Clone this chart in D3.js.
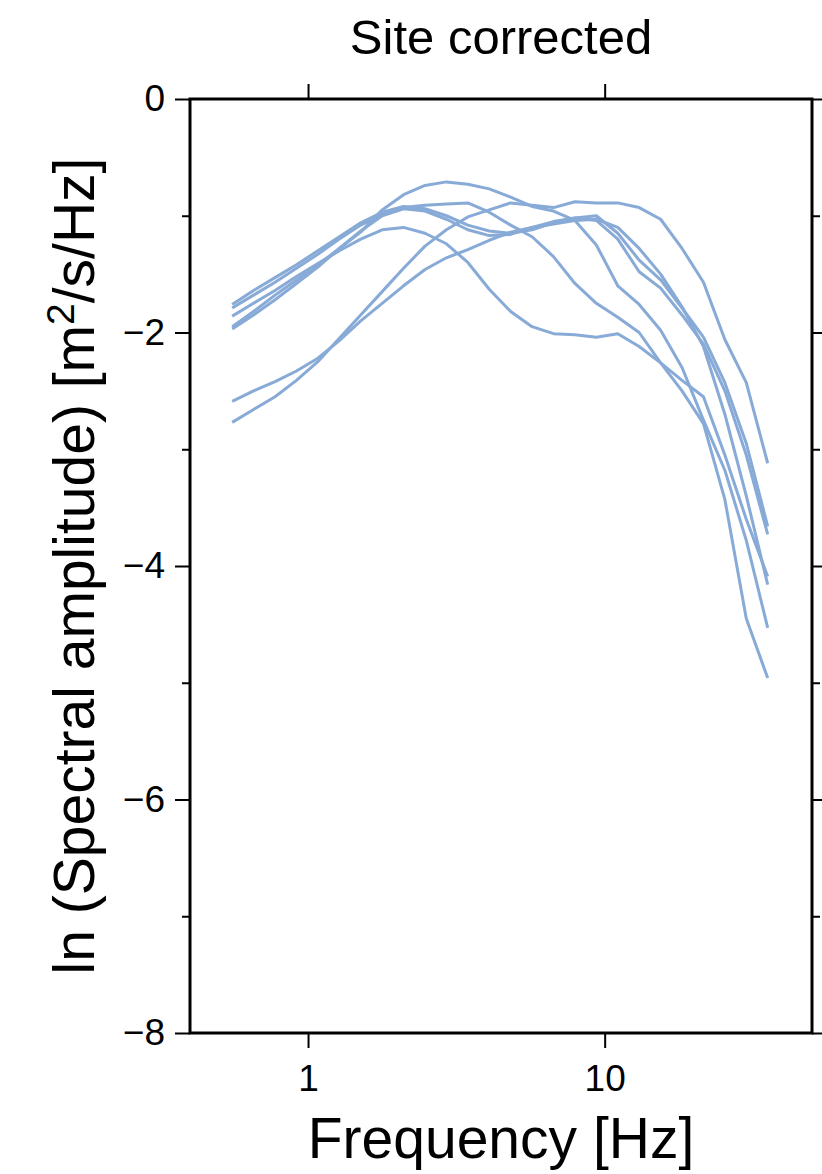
<!DOCTYPE html>
<html>
<head>
<meta charset="utf-8">
<script src="https://cdn.jsdelivr.net/npm/d3@7"></script>
<style>
  body { margin: 0; background: #fff; }
  text { font-family: "Liberation Sans", Arial, sans-serif; fill: #000; }
</style>
</head>
<body>
<script>
// chart size
const width = 822;
const height = 1174;
const margin = {top: 99, right: 10, bottom: 141, left: 190};

// frequencies (Hz) of the spectral samples
const freqs = [0.555, 0.655, 0.774, 0.914, 1.079, 1.275, 1.505, 1.778, 2.099, 2.479,
               2.927, 3.457, 4.082, 4.820, 5.692, 6.722, 7.938, 9.374, 11.07, 13.07,
               15.44, 18.23, 21.53, 25.42, 30.02, 35.45];

// ln spectral amplitude per station
const stationA = [-1.76,-1.64,-1.53,-1.42,-1.30,-1.18,-1.06,-0.97,-0.92,-0.94,-1.00,-1.08,-1.13,-1.15,-1.12,-1.06,-1.02,-1.00,-1.15,-1.38,-1.55,-1.79,-2.04,-2.43,-2.95,-3.66];
const stationB = [-1.97,-1.85,-1.72,-1.58,-1.44,-1.28,-1.13,-1.00,-0.94,-0.96,-1.03,-1.12,-1.17,-1.16,-1.10,-1.05,-1.02,-1.04,-1.20,-1.48,-1.62,-1.85,-2.10,-2.50,-3.05,-3.73];
const stationC = [-1.79,-1.68,-1.57,-1.45,-1.33,-1.20,-1.08,-0.99,-0.93,-0.91,-0.90,-0.89,-0.97,-1.08,-1.18,-1.35,-1.58,-1.75,-1.87,-2.00,-2.26,-2.41,-2.55,-3.05,-3.60,-4.09];
const stationD = [-1.86,-1.75,-1.64,-1.52,-1.41,-1.30,-1.20,-1.12,-1.10,-1.15,-1.24,-1.40,-1.63,-1.82,-1.95,-2.01,-2.02,-2.04,-2.01,-2.12,-2.26,-2.50,-2.78,-3.43,-4.45,-4.96];
const stationE = [-1.95,-1.82,-1.68,-1.55,-1.42,-1.28,-1.14,-0.95,-0.82,-0.74,-0.71,-0.73,-0.77,-0.84,-0.92,-0.96,-1.04,-1.25,-1.60,-1.76,-1.98,-2.30,-2.75,-3.18,-3.78,-4.53];
const stationF = [-2.77,-2.66,-2.55,-2.41,-2.25,-2.05,-1.85,-1.65,-1.45,-1.26,-1.12,-1.01,-0.95,-0.89,-0.91,-0.93,-0.88,-0.89,-0.89,-0.93,-1.03,-1.28,-1.57,-2.06,-2.43,-3.12];
const stationG = [-2.59,-2.50,-2.42,-2.33,-2.22,-2.07,-1.90,-1.75,-1.60,-1.46,-1.36,-1.29,-1.21,-1.14,-1.10,-1.07,-1.04,-1.03,-1.10,-1.28,-1.50,-1.78,-2.12,-2.70,-3.40,-4.16];
const stations = [stationA, stationB, stationC, stationD, stationE, stationF, stationG];

// axis ticks
const xTicks = [1, 10];
const yTicks = [0, -1, -2, -3, -4, -5, -6, -7, -8];

const x = d3.scaleLog()
    .domain([0.4, 50])
    .range([margin.left, width - margin.right]);

const y = d3.scaleLinear()
    .domain([-8, 0])
    .range([height - margin.bottom, margin.top]);

const svg = d3.select('body').append('svg')
    .attr('width', width)
    .attr('height', height);

// curves
const line = d3.line()
    .x((d, i) => x(freqs[i]))
    .y(d => y(d));

svg.append('g')
    .selectAll('path')
    .data(stations)
    .join('path')
    .attr('fill', 'none')
    .attr('stroke', '#88aad7')
    .attr('stroke-width', 3)
    .attr('stroke-linejoin', 'round')
    .attr('d', line);

// axes
const fmtY = d => d % 2 === 0 ? d3.format('d')(d) : '';

const styleAxis = g => {
    g.select('.domain').remove();
    g.selectAll('.tick line').attr('stroke', '#000').attr('stroke-width', 2);
    g.selectAll('.tick text').attr('font-size', 37);
};

svg.append('g')
    .attr('transform', `translate(${margin.left},0)`)
    .call(d3.axisLeft(y).tickValues(yTicks).tickSize(15).tickPadding(10).tickFormat(fmtY))
    .call(styleAxis)
    .call(g => g.selectAll('.tick line').filter(d => d % 2 !== 0).attr('x2', -8));

svg.append('g')
    .attr('transform', `translate(${width - margin.right},0)`)
    .call(d3.axisRight(y).tickValues(yTicks).tickSize(15).tickFormat(''))
    .call(styleAxis)
    .call(g => g.selectAll('.tick line').filter(d => d % 2 !== 0).attr('x2', 8));

svg.append('g')
    .attr('transform', `translate(0,${height - margin.bottom})`)
    .call(d3.axisBottom(x).tickValues(xTicks).tickSize(15).tickPadding(17).tickFormat(d3.format('d')))
    .call(styleAxis);

svg.append('g')
    .attr('transform', `translate(0,${margin.top})`)
    .call(d3.axisTop(x).tickValues(xTicks).tickSize(15).tickFormat(''))
    .call(styleAxis);

// frame
svg.append('rect')
    .attr('x', margin.left)
    .attr('y', margin.top)
    .attr('width', width - margin.right - margin.left)
    .attr('height', height - margin.bottom - margin.top)
    .attr('fill', 'none')
    .attr('stroke', '#000')
    .attr('stroke-width', 3);

// titles
const midX = (margin.left + width - margin.right) / 2;

svg.append('text')
    .attr('x', midX)
    .attr('y', 54)
    .attr('text-anchor', 'middle')
    .attr('font-size', 49)
    .text('Site corrected');

svg.append('text')
    .attr('x', midX)
    .attr('y', 1158)
    .attr('text-anchor', 'middle')
    .attr('font-size', 57)
    .text('Frequency [Hz]');

const yLabel = svg.append('text')
    .attr('transform', `translate(94,${(margin.top + height - margin.bottom) / 2}) rotate(-90)`)
    .attr('text-anchor', 'middle')
    .attr('font-size', 57);
yLabel.append('tspan').text('ln (Spectral amplitude) [m');
yLabel.append('tspan').attr('dy', -20).attr('font-size', 39).text('2');
yLabel.append('tspan').attr('dy', 20).text('/s/Hz]');
</script>
</body>
</html>
